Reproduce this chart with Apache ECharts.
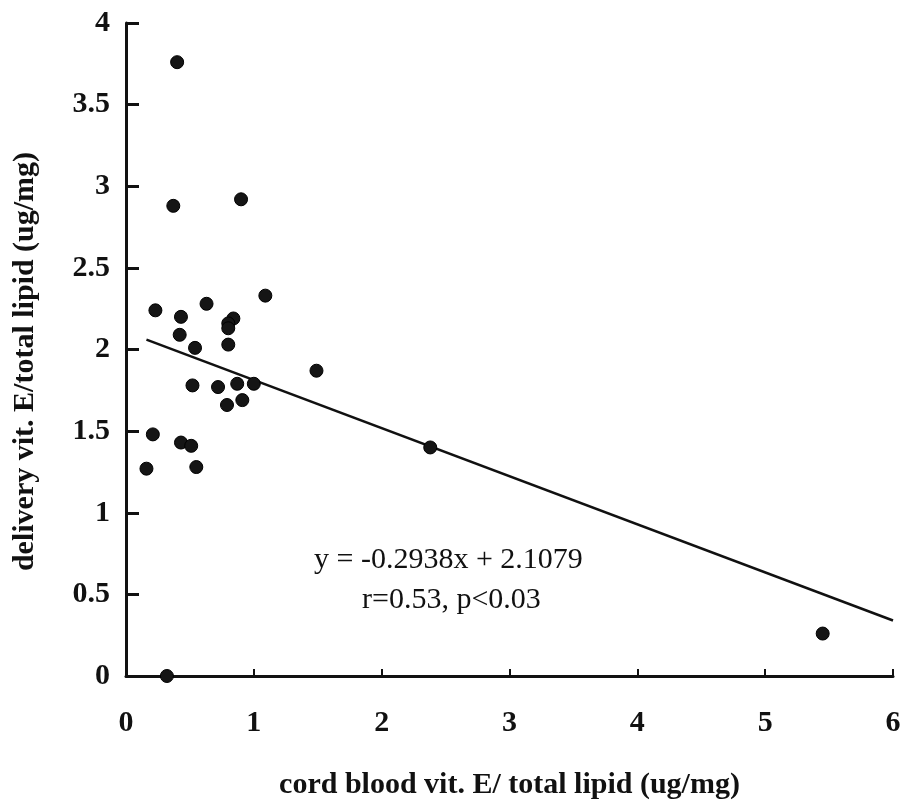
<!DOCTYPE html>
<html>
<head>
<meta charset="utf-8">
<script src="https://cdn.jsdelivr.net/npm/echarts@6/dist/echarts.min.js"></script>
<style>
  html, body { margin: 0; padding: 0; background: #fff; }
  #chart { width: 907px; height: 805px; }
</style>
</head>
<body>
<div id="chart"></div>
<script>
// Scatter data: cord blood vit. E / total lipid (x) vs delivery vit. E / total lipid (y)
var cordX = [0.40, 0.37, 0.90, 0.23, 0.63, 1.09, 0.43, 0.84, 0.80, 0.80, 0.42, 0.80, 0.54,
             1.49, 0.52, 0.72, 0.87, 1.00, 0.79, 0.91, 0.21, 0.43, 0.51, 0.16, 0.55, 2.38, 5.45, 0.32];
var deliveryY = [3.76, 2.88, 2.92, 2.24, 2.28, 2.33, 2.20, 2.19, 2.16, 2.13, 2.09, 2.03, 2.01,
                 1.87, 1.78, 1.77, 1.79, 1.79, 1.66, 1.69, 1.48, 1.43, 1.41, 1.27, 1.28, 1.40, 0.26, 0.00];
// Regression line endpoints
var fitX = [0.16, 6.0];
var fitY = [2.06, 0.34];
var xTicks = [0, 1, 2, 3, 4, 5, 6];
var yTicks = [0, 0.5, 1, 1.5, 2, 2.5, 3, 3.5, 4];
var eqText = 'y = -0.2938x + 2.1079';
var statText = 'r=0.53, p<0.03';

var points = cordX.map(function (x, i) { return [x, deliveryY[i]]; });
var fitLine = fitX.map(function (x, i) { return [x, fitY[i]]; });

var serif = "'Liberation Serif', 'Times New Roman', serif";
var chart = echarts.init(document.getElementById('chart'), null, { renderer: 'canvas' });
chart.setOption({
  backgroundColor: '#ffffff',
  animation: false,
  grid: { left: 126, right: 14, top: 23, bottom: 127 },
  xAxis: {
    type: 'value', min: xTicks[0], max: xTicks[xTicks.length - 1], interval: 1,
    splitLine: { show: false },
    axisLine: { show: true, onZero: false, lineStyle: { color: '#111', width: 3 } },
    axisTick: { show: true, inside: true, length: 7, lineStyle: { color: '#111', width: 2 } },
    axisLabel: { margin: 32, color: '#111', fontFamily: serif, fontWeight: 'bold', fontSize: 30 },
    name: 'cord blood vit. E/ total lipid (ug/mg)',
    nameLocation: 'middle', nameGap: 94,
    nameTextStyle: { color: '#111', fontFamily: serif, fontWeight: 'bold', fontSize: 30 }
  },
  yAxis: {
    type: 'value', min: yTicks[0], max: yTicks[yTicks.length - 1], interval: 0.5,
    splitLine: { show: false },
    axisLine: { show: true, onZero: false, lineStyle: { color: '#111', width: 3 } },
    axisTick: { show: true, inside: true, length: 13, lineStyle: { color: '#111', width: 3 } },
    axisLabel: { margin: 16, color: '#111', fontFamily: serif, fontWeight: 'bold', fontSize: 30 },
    name: 'delivery vit. E/total lipid (ug/mg)',
    nameLocation: 'middle', nameGap: 86,
    nameTextStyle: { color: '#111', fontFamily: serif, fontWeight: 'bold', fontSize: 30, padding: [0, 24, 0, 0] }
  },
  series: [
    {
      type: 'line', data: fitLine, showSymbol: false, symbol: 'none',
      lineStyle: { color: '#111', width: 2.5 }, silent: true, z: 2
    },
    {
      type: 'scatter', data: points, symbol: 'circle', symbolSize: 13, clip: false,
      itemStyle: { color: '#151515', opacity: 1, borderColor: '#000', borderWidth: 1 }, z: 3
    }
  ],
  graphic: [
    {
      type: 'text', left: 314, top: 545, silent: true,
      style: { text: eqText, fill: '#111', font: "30px 'Liberation Serif', serif" }
    },
    {
      type: 'text', left: 362, top: 585, silent: true,
      style: { text: statText, fill: '#111', font: "30px 'Liberation Serif', serif" }
    }
  ]
});
</script>
</body>
</html>
